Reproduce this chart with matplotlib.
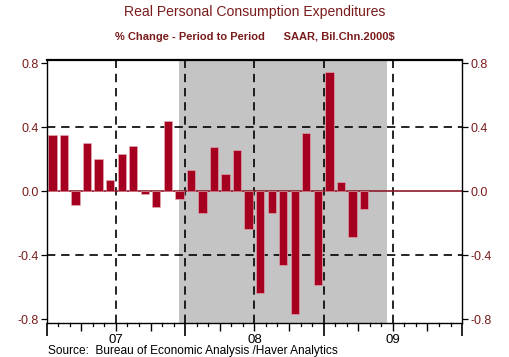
import matplotlib
matplotlib.use('Agg')
import matplotlib.pyplot as plt
import pandas as pd
import numpy as np

plt.rcParams['font.family'] = ['Liberation Sans', 'DejaVu Sans']

# data: monthly % change, Jan 2007 - Apr 2009
months = pd.period_range('2007-01', periods=28, freq='M')
pce_change = [0.35, 0.35, -0.09, 0.30, 0.20, 0.07, 0.23, 0.28, -0.02, -0.10, 0.44, -0.05,
              0.13, -0.14, 0.275, 0.11, 0.255, -0.24, -0.64, -0.14, -0.46, -0.77, 0.365, -0.59,
              0.745, 0.06, -0.29, -0.115]
recession = ('2007-12', '2009-06')
year_labels = ['07', '08', '09']
y_ticks = [-0.8, -0.4, 0.0, 0.4, 0.8]

red = '#a5001f'
dark_red = '#7a1c1c'

def pos(p):
    p = pd.Period(p, freq='M')
    return (p.year - 2007) * 12 + p.month - 1 + 0.5

x = np.array([pos(m) for m in months])

fig = plt.figure(figsize=(5.1, 3.57), dpi=100)
ax = fig.add_axes([0.0916, 0.0952, 0.906 - 0.0916, 0.832 - 0.0952])

# recession shading
ax.axvspan(pos(recession[0]), pos(recession[1]), color='#c4c4c4', lw=0, zorder=0)

# grid lines
for yv in [-0.4, 0.4]:
    ax.axhline(yv, color='black', lw=1.2, ls=(0, (5, 3.5)), zorder=1)
for xv in [6, 12, 18, 24, 30]:
    ax.axvline(xv, color='black', lw=1.2, ls=(0, (5, 3.5)), zorder=1)
ax.axhline(0, color='#8b1a2b', lw=1.2, zorder=1)

ax.bar(x, pce_change, width=0.72, color=red, edgecolor='#e8b0b8', linewidth=0.4, zorder=2)

ax.set_xlim(0, 36)
ax.set_ylim(-0.825, 0.82)

# y axis both sides
ax.set_yticks(y_ticks)
ax.set_yticklabels([f'{v:.1f}' for v in y_ticks])
ax.tick_params(axis='y', which='both', left=True, right=True, labelleft=True, labelright=True,
               direction='out', length=4.5, width=0.9, pad=1.5, labelsize=9, labelcolor=dark_red)

# x axis: years long, quarters medium, months short
ax.set_xticks([0, 12, 24, 36])
ax.set_xticklabels([])
ax.set_xticks([m for m in range(36) if m % 3 == 0 and m % 12 != 0], minor=True)
ax.tick_params(axis='x', which='major', direction='out', length=9, width=1.2)
ax.tick_params(axis='x', which='minor', direction='out', length=6, width=1.0)
for m in range(1, 36):
    if m % 3 != 0:
        ax.plot([m, m], [0, -0.013], transform=ax.get_xaxis_transform(), color='black',
                lw=0.9, clip_on=False)
for i, lab in enumerate(year_labels):
    ax.text(6 + 12 * i, -0.04, lab, transform=ax.get_xaxis_transform(), ha='center', va='top',
            fontsize=9.5)

for s in ax.spines.values():
    s.set_linewidth(1.0)
ax.spines['top'].set_linewidth(1.6)

fig.text(0.5, 0.966, 'Real Personal Consumption Expenditures', ha='center', va='center',
         fontsize=10.1, color=dark_red)
fig.text(0.5, 0.896, '% Change - Period to Period      SAAR, Bil.Chn.2000$', ha='center',
         va='center', fontsize=8.0, fontweight='bold', color=dark_red)
fig.text(0.094, 0.016, 'Source:  Bureau of Economic Analysis /Haver Analytics', ha='left',
         va='center', fontsize=8.6, color='black')

plt.savefig('out.png', dpi=100)
